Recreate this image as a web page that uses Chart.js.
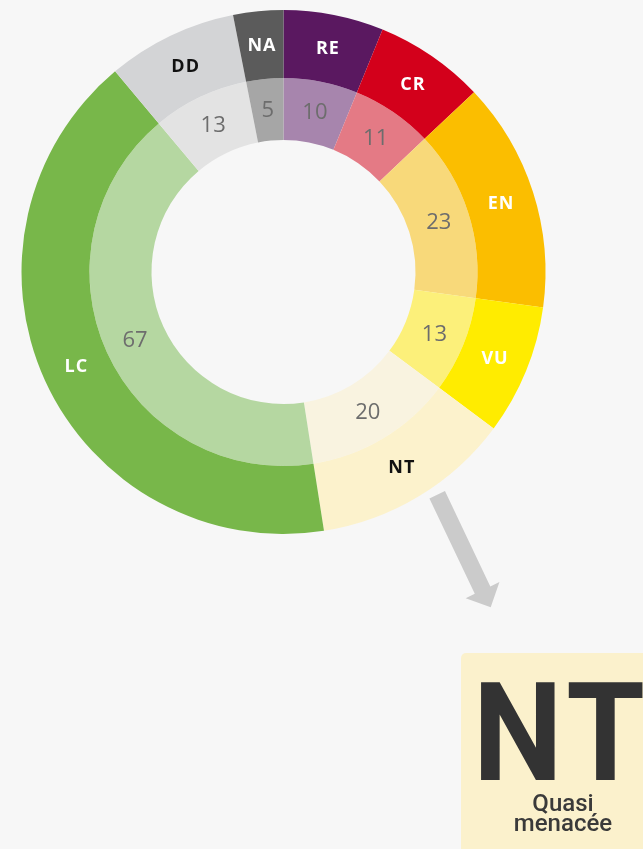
<!DOCTYPE html>
<html>
<head>
<meta charset="utf-8">
<script src="https://cdn.jsdelivr.net/npm/chart.js@4.4.1/dist/chart.umd.min.js"></script>
<style>
  html, body { margin: 0; padding: 0; background: #f7f7f7; overflow: hidden; }
  #wrap { position: relative; width: 643px; height: 849px; }
  #c { position: absolute; left: 0; top: 0; }
  #badge { position: absolute; left: 461px; top: 653px; width: 220px; height: 220px;
           background: #fbf1cc; border-top-left-radius: 5px; overflow: hidden; }
  #nt { position: absolute; left: 12px; top: 11px; font-family: Roboto, sans-serif; font-weight: 700;
        font-size: 138px; line-height: 138px; color: #333333; white-space: nowrap; letter-spacing: 6px;
        transform: scaleX(0.92); transform-origin: left top; }
  .sub { position: absolute; left: 0; width: 204px; text-align: center; font-family: Roboto, sans-serif;
         font-weight: 500; font-size: 24px; line-height: 24px; color: #3a3a3a; }
</style>
</head>
<body>
<div id="wrap">
  <canvas id="c" width="643" height="849"></canvas>
  <div id="badge">
    <div id="nt">NT</div>
    <div class="sub" style="top:138px">Quasi</div>
    <div class="sub" style="top:158px">menacée</div>
  </div>
</div>
<script>
const categories = ['RE', 'CR', 'EN', 'VU', 'NT', 'LC', 'DD', 'NA'];
const counts = [10, 11, 23, 13, 20, 67, 13, 5];
const outerColors = ['#5a1860', '#d3001b', '#fbbe00', '#ffec00', '#fcf2cc', '#78b74a', '#d3d4d6', '#5b5b5b'];
const innerColors = ['#a785ad', '#e47a85', '#f8d97a', '#fcf07a', '#f9f3e0', '#b5d7a1', '#e3e3e3', '#a6a6a6'];
const outerLabelColors = ['#ffffff', '#ffffff', '#ffffff', '#ffffff', '#111111', '#ffffff', '#111111', '#ffffff'];

const labelPlugin = {
  id: 'ringLabels',
  afterDatasetsDraw(chart) {
    const ctx = chart.ctx;
    ctx.save();
    ctx.textAlign = 'center';
    ctx.textBaseline = 'middle';
    chart.data.datasets.forEach((ds, di) => {
      const meta = chart.getDatasetMeta(di);
      meta.data.forEach((arc, i) => {
        const p = arc.getProps(['x', 'y', 'startAngle', 'endAngle', 'innerRadius', 'outerRadius'], true);
        const a = (p.startAngle + p.endAngle) / 2;
        const r = (p.innerRadius + p.outerRadius) / 2;
        const x = p.x + Math.cos(a) * r;
        const y = p.y + Math.sin(a) * r;
        if (di === 0) {
          ctx.font = '700 18px "Open Sans", sans-serif';
          ctx.letterSpacing = '1px';
          ctx.fillStyle = outerLabelColors[i];
          ctx.fillText(categories[i], x + 0.5, y + 1);
        } else {
          ctx.font = '400 22px "Open Sans", sans-serif';
          ctx.letterSpacing = '0px';
          ctx.fillStyle = '#6d6d6d';
          ctx.fillText(String(ds.data[i]), x, y + 1);
        }
      });
    });
    ctx.restore();
  }
};

const arrowPlugin = {
  id: 'arrow',
  afterDraw(chart) {
    const ctx = chart.ctx;
    const sx = 437.2, sy = 494.7, tx = 490.7, ty = 607.3;
    const len = Math.hypot(tx - sx, ty - sy);
    const ux = (tx - sx) / len, uy = (ty - sy) / len;
    const nx = uy, ny = -ux;
    const hw = 8.6, headLen = 19, headHw = 18.7;
    const bx = tx - ux * headLen, by = ty - uy * headLen;
    ctx.save();
    ctx.fillStyle = '#cbcbcb';
    ctx.beginPath();
    ctx.moveTo(sx + nx * hw, sy + ny * hw);
    ctx.lineTo(bx + nx * hw, by + ny * hw);
    ctx.lineTo(bx + nx * headHw, by + ny * headHw);
    ctx.lineTo(tx, ty);
    ctx.lineTo(bx - nx * headHw, by - ny * headHw);
    ctx.lineTo(bx - nx * hw, by - ny * hw);
    ctx.lineTo(sx - nx * hw, sy - ny * hw);
    ctx.closePath();
    ctx.fill();
    ctx.restore();
  }
};

new Chart(document.getElementById('c'), {
  type: 'doughnut',
  data: {
    labels: categories,
    datasets: [
      { data: counts, backgroundColor: outerColors, borderWidth: 0, weight: 68 },
      { data: counts, backgroundColor: innerColors, borderWidth: 0, weight: 62 }
    ]
  },
  options: {
    responsive: false,
    animation: false,
    cutout: 132,
    layout: { padding: { left: 21.5, right: 97.5, top: 10, bottom: 315 } },
    plugins: { legend: { display: false }, tooltip: { enabled: false } }
  },
  plugins: [labelPlugin, arrowPlugin]
});
</script>
</body>
</html>
